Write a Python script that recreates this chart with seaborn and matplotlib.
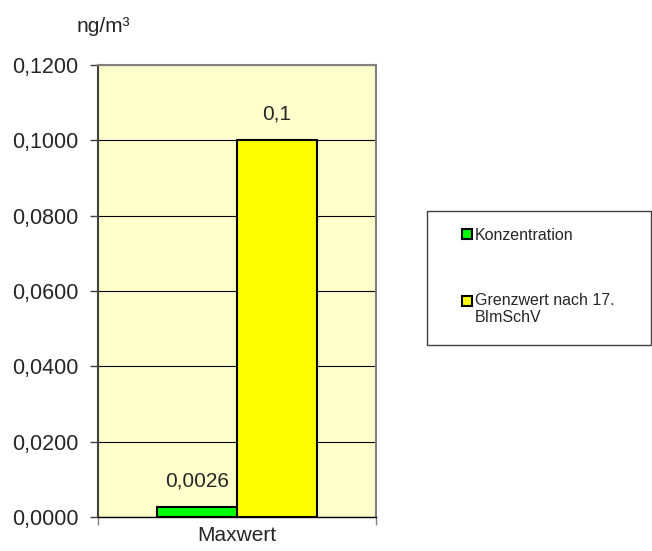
import matplotlib
matplotlib.use('Agg')
import matplotlib.pyplot as plt
import matplotlib.patches as mpatches
from matplotlib.legend_handler import HandlerPatch
from matplotlib.ticker import FuncFormatter
import seaborn as sns
import pandas as pd

# chart values
categories = ['Maxwert', 'Maxwert']
series = ['Konzentration', 'Grenzwert nach 17.\nBImSchV']
values = [0.0026, 0.1]
bar_colors = ['#00FF00', '#FFFF00']
y_ticks = [0.0, 0.02, 0.04, 0.06, 0.08, 0.10, 0.12]
unit = 'ng/m³'

df = pd.DataFrame({'cat': categories, 'series': series, 'value': values})

sns.set_style('white')
plt.rcParams['font.family'] = ['Liberation Sans', 'DejaVu Sans']

fig = plt.figure(figsize=(6.52, 5.51), dpi=100)
ax = fig.add_axes([98 / 652, 1 - 517 / 551, 278 / 652, 452 / 551])

sns.barplot(data=df, x='cat', y='value', hue='series', palette=bar_colors,
            width=0.5755, edgecolor='black', linewidth=1.5, ax=ax,
            legend=False, saturation=1)

ax.set_facecolor('#FFFFCC')
ax.set_xlim(-0.5, 0.5)
ax.set_ylim(0, 0.12)
ax.set_yticks(y_ticks)
ax.yaxis.set_major_formatter(FuncFormatter(lambda v, p: f'{v:.4f}'.replace('.', ',')))
ax.grid(axis='y', color='black', linewidth=0.8)
ax.set_axisbelow(True)

ax.set_xticks([-0.5, 0.5])
ax.set_xticklabels(['', ''])
ax.set_xlabel('')
ax.set_ylabel('')
ax.text(0, -0.02, 'Maxwert', transform=ax.get_xaxis_transform(), fontsize=15,
        ha='center', va='top')
ax.tick_params(axis='both', direction='out', length=6, width=1, labelsize=15.5,
               left=True, bottom=True, color='#404040')
ax.tick_params(axis='y', pad=8)
ax.tick_params(axis='x', color='#808080')

for side in ['top', 'right']:
    ax.spines[side].set_color('#808080')
    ax.spines[side].set_linewidth(1.5)
ax.spines['left'].set_color('#404040')
ax.spines['left'].set_linewidth(1.5)
ax.spines['bottom'].set_color('black')
ax.spines['bottom'].set_linewidth(1)

for cont in ax.containers:
    ax.bar_label(cont, labels=[str(v).replace('.', ',') for v in cont.datavalues],
                 padding=12, fontsize=15)

fig.text(103 / 652, 1 - 27 / 551, unit, fontsize=15, ha='center', va='center')

# legend box
frame = mpatches.Rectangle((427 / 652, 1 - 345 / 551), 224 / 652, 134 / 551,
                           transform=fig.transFigure, facecolor='white',
                           edgecolor='#404040', linewidth=1)
fig.patches.append(frame)


def top_square(legend, orig_handle, xdescent, ydescent, width, height, fontsize):
    # keep the marker level with the first text line
    return mpatches.Rectangle((-xdescent, -ydescent + 5.8), width, height)


handles = [mpatches.Patch(facecolor=c, edgecolor='black', linewidth=1.5) for c in bar_colors]
fig.legend(handles, series, loc='upper left', bbox_to_anchor=(462 / 652, 1 - 228 / 551),
           frameon=False, fontsize=11.5, handlelength=0.6, handleheight=0.6,
           handletextpad=0.2, labelspacing=3.1, borderaxespad=0, borderpad=0,
           handler_map={handles[1]: HandlerPatch(patch_func=top_square)})

fig.savefig('out.png', dpi=100)
